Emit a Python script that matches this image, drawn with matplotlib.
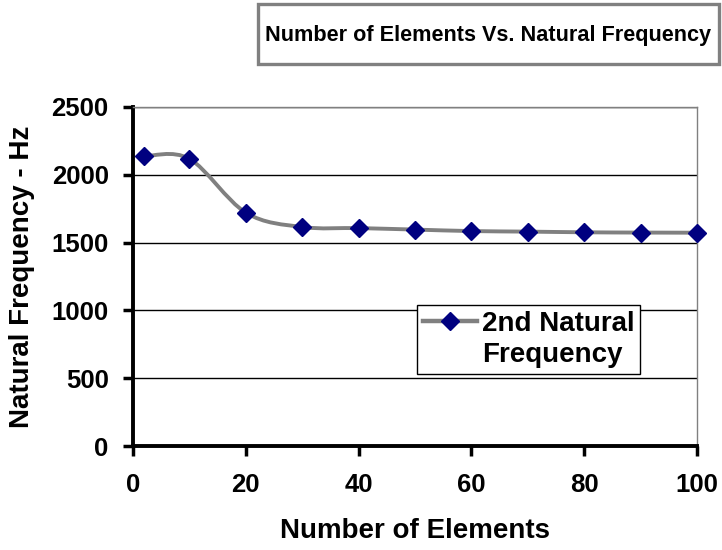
import numpy as np
import matplotlib
matplotlib.use("Agg")
import matplotlib.pyplot as plt
from matplotlib.path import Path
from matplotlib.patches import PathPatch, Rectangle
from matplotlib.lines import Line2D

plt.rcParams['font.family'] = ['Liberation Sans', 'DejaVu Sans']
plt.rcParams['font.weight'] = 'bold'

# data
elements = [2, 10, 20, 30, 40, 50, 60, 70, 80, 90, 100]
freq_2nd = [2137, 2118, 1721, 1615, 1607, 1596, 1585, 1581, 1576, 1574, 1573]
x_ticks = [0, 20, 40, 60, 80, 100]
y_ticks = [0, 500, 1000, 1500, 2000, 2500]

line_col = "#808080"
mark_col = "#000080"
W, H = 722, 550

fig = plt.figure(figsize=(7.22, 5.5), dpi=100)
ax = fig.add_axes([133 / W, 1 - 446 / H, 564 / W, 339 / H])

# Excel style smoothed line: catmull-rom segments as cubic beziers
pts = np.column_stack([elements, freq_2nd]).astype(float)
verts = [pts[0]]
codes = [Path.MOVETO]
n = len(pts)
for i in range(n - 1):
    p0 = pts[max(i - 1, 0)]
    p1 = pts[i]
    p2 = pts[i + 1]
    p3 = pts[min(i + 2, n - 1)]
    c1 = p1 + (p2 - p0) / 6.0
    c2 = p2 - (p3 - p1) / 6.0
    verts += [c1, c2, p2]
    codes += [Path.CURVE4] * 3
curve = PathPatch(Path(verts, codes), facecolor="none", edgecolor=line_col,
                  lw=2.8, zorder=3, capstyle="round", joinstyle="round")
ax.add_patch(curve)
ax.plot(elements, freq_2nd, ls="none", marker="D", ms=9.5, color=mark_col,
        zorder=4, clip_on=False)

ax.set_xlim(0, 100)
ax.set_ylim(0, 2500)
ax.set_xticks(x_ticks)
ax.set_yticks(y_ticks)
ax.tick_params(axis="both", direction="out", length=7.5, width=2.5,
               labelsize=18.5)
ax.tick_params(axis="y", pad=10)
ax.tick_params(axis="x", pad=12)
for lab in ax.get_xticklabels() + ax.get_yticklabels():
    lab.set_fontweight("bold")

ax.grid(axis="y", color="black", lw=1.0)
ax.set_axisbelow(True)
ax.spines["left"].set_linewidth(2.8)
ax.spines["bottom"].set_linewidth(2.8)
for s in ("top", "right"):
    ax.spines[s].set_color("#808080")
    ax.spines[s].set_linewidth(1.0)

fig.text(415 / W, 1 - 531 / H, "Number of Elements", ha="center",
         va="center", fontsize=20, fontweight="bold")
fig.text(22 / W, 1 - 277 / H, "Natural Frequency - Hz", ha="center",
         va="center", rotation=90, fontsize=20, fontweight="bold")

# legend: handle sits beside the first line of the label
handle = Line2D([], [], color=line_col, lw=3.2, marker="D", ms=9.5,
                markerfacecolor=mark_col, markeredgecolor=mark_col)
blank = Line2D([], [], color="none")
leg = ax.legend([handle, blank], ["2nd Natural", "Frequency"],
                loc="upper left",
                bbox_to_anchor=((417 - 133) / 564, (446 - 305) / 339),
                frameon=True, fancybox=False, framealpha=1,
                edgecolor="black", handlelength=1.95,
                prop={"size": 20, "weight": "bold"}, borderpad=0.2,
                labelspacing=0.2, handletextpad=0.18, borderaxespad=0)
leg.get_frame().set_linewidth(1.0)

# title box
fig.patches.append(Rectangle((258 / W, 1 - 64 / H), 461 / W, 60 / H,
                             transform=fig.transFigure, facecolor="white",
                             edgecolor="#808080", lw=2.4))
fig.text(488 / W, 1 - 36 / H, "Number of Elements Vs. Natural Frequency",
         ha="center", va="center", fontsize=15.6, fontweight="bold")

fig.savefig("out.png", dpi=100)
